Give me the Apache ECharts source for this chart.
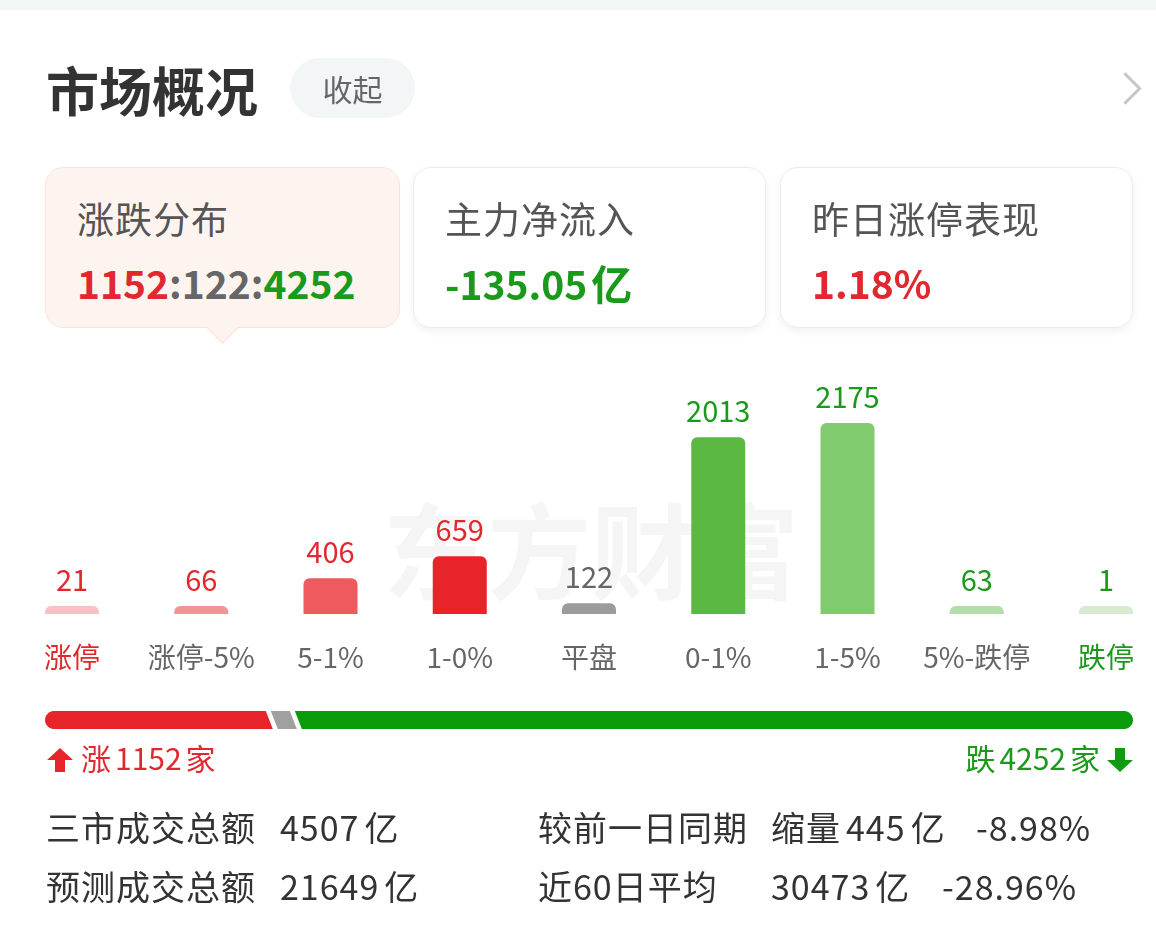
<!DOCTYPE html>
<html>
<head>
<meta charset="utf-8">
<script src="https://cdn.jsdelivr.net/npm/echarts@6/dist/echarts.min.js"></script>
<style>
    body { margin: 0; background: #fff; font-family: "Noto Sans CJK SC", "Noto Sans", sans-serif; }
    #page { position: relative; width: 1156px; height: 937px; overflow: hidden; }
    #chart { position: absolute; left: 0; top: 0; width: 1156px; height: 937px; }
    .abs { position: absolute; white-space: nowrap; }
    .topbar { left: 0; top: 0; width: 1156px; height: 10px; background: #f1f6f7; }
    .title { left: 46px; top: 57px; font-size: 53px; line-height: 64px; font-weight: bold; color: #333; }
    .pill { left: 290px; top: 58px; width: 125px; height: 60px; border-radius: 30px; background: #f2f6f7;
        color: #666; font-size: 30px; line-height: 60px; text-align: center; }
    .chev { left: 1114px; top: 77px; width: 20px; height: 20px; border-top: 3px solid #c6c6c6;
        border-right: 3px solid #c6c6c6; transform: rotate(45deg); }
    .card { top: 167px; height: 159px; border-radius: 18px; background: #fff; border: 1px solid #ececec;
        box-shadow: 0 3px 10px rgba(0, 0, 0, 0.06); }
    .card.on { background: #fdf4f0; border-color: #f8e4dc; box-shadow: none; }
    .card .t { position: absolute; left: 31px; top: 27px; font-size: 37px; line-height: 46px; color: #555; letter-spacing: 1px; }
    .card .v { position: absolute; left: 31px; top: 91px; font-size: 39px; line-height: 46px; font-weight: bold; }
    .card .v .u { margin-left: 4px; font-size: 41px; }
    .tip { left: 211px; top: 316px; width: 22px; height: 22px; background: #fdf4f0; border-right: 1px solid #f8e4dc;
        border-bottom: 1px solid #f8e4dc; transform: rotate(45deg); }
    .red { color: #e0282e; }
    .green { color: #1a9a1a; }
    .gray { color: #666; }
    .cnt { top: 738px; font-size: 30px; line-height: 38px; }
    .cnt .u { margin-left: 4px; }
    .row { font-size: 34px; line-height: 42px; color: #333; letter-spacing: 1px; }
    .u { margin-left: 5px; }
</style>
</head>
<body>
<div id="page">
    <div id="chart"></div>
    <div class="abs topbar"></div>
    <div class="abs title">市场概况</div>
    <div class="abs pill">收起</div>
    <div class="abs chev"></div>

    <div class="abs card on" style="left:45px;width:353px;">
        <div class="t">涨跌分布</div>
        <div class="v"><span class="red" id="vUp"></span><span class="gray">:</span><span class="gray" id="vFlat"></span><span class="gray">:</span><span class="green" id="vDown"></span></div>
    </div>
    <div class="abs tip"></div>
    <div class="abs card" style="left:413px;width:351px;">
        <div class="t">主力净流入</div>
        <div class="v green">-135.05<span class="u">亿</span></div>
    </div>
    <div class="abs card" style="left:780px;width:351px;">
        <div class="t">昨日涨停表现</div>
        <div class="v red">1.18%</div>
    </div>

    <div class="abs cnt red" style="left:46px;">
        <svg width="28" height="26" style="vertical-align:-3px;margin-right:7px"><polygon points="14,1 27,13 19,13 19,25 9,25 9,13 1,13" fill="#e8242b"/></svg>涨<span class="u" id="upTxt"></span><span class="u">家</span>
    </div>
    <div class="abs cnt green" style="right:22px;">
        跌<span class="u" id="downTxt"></span><span class="u">家</span><svg width="28" height="26" style="vertical-align:-3px;margin-left:6px"><polygon points="9,1 19,1 19,13 27,13 14,25 1,13 9,13" fill="#119a11"/></svg>
    </div>

    <div class="abs row" style="left:46px;top:806px;">三市成交总额</div>
    <div class="abs row" style="left:280px;top:806px;">4507<span class="u">亿</span></div>
    <div class="abs row" style="left:538px;top:806px;">较前一日同期</div>
    <div class="abs row green" style="left:771px;top:806px;">缩量<span class="u">445</span><span class="u">亿</span></div>
    <div class="abs row green" style="left:976px;top:806px;">-8.98%</div>
    <div class="abs row" style="left:46px;top:865px;">预测成交总额</div>
    <div class="abs row" style="left:280px;top:865px;">21649<span class="u">亿</span></div>
    <div class="abs row" style="left:538px;top:865px;">近60日平均</div>
    <div class="abs row" style="left:771px;top:865px;">30473<span class="u">亿</span></div>
    <div class="abs row green" style="left:942px;top:865px;">-28.96%</div>
</div>

<script>
    // 涨跌分布
    const categories = ['涨停', '涨停-5%', '5-1%', '1-0%', '平盘', '0-1%', '1-5%', '5%-跌停', '跌停']
    const counts = [21, 66, 406, 659, 122, 2013, 2175, 63, 1]
    // 涨 / 平 / 跌
    const upFlatDown = [1152, 122, 4252]

    const barColors = ['#f9c1c4', '#f29396', '#ee5a5d', '#e8232a', '#9c9c9c', '#5ab843', '#80cb6e', '#b3deaa', '#d5ecd0']
    const labelColors = ['#e0282e', '#e0282e', '#e0282e', '#e0282e', '#666', '#1a9a1a', '#1a9a1a', '#1a9a1a', '#1a9a1a']
    const axisColors = ['#e0282e', '#666', '#666', '#666', '#666', '#666', '#666', '#666', '#1a9a1a']
    const segColors = ['#e8242b', '#a0a0a0', '#0a9b0a']

    document.getElementById('vUp').textContent = upFlatDown[0]
    document.getElementById('vFlat').textContent = upFlatDown[1]
    document.getElementById('vDown').textContent = upFlatDown[2]
    document.getElementById('upTxt').textContent = upFlatDown[0]
    document.getElementById('downTxt').textContent = upFlatDown[2]

    const total = upFlatDown.reduce((a, b) => a + b, 0)
    let acc = 0
    const segData = upFlatDown.map(v => {
        const d = [acc, acc + v, 0]
        acc += v
        return d
    })

    function renderSeg(params, api) {
        const cs = params.coordSys
        const i = params.dataIndex
        const xa = api.coord([api.value(0), 0])[0]
        const xb = api.coord([api.value(1), 0])[0]
        const y0 = cs.y, y1 = cs.y + cs.height, yc = (y0 + y1) / 2, r = cs.height / 2
        const g = 2.5, s = 3.5
        const pts = []
        if (i === 0) {
            for (let k = 0; k <= 12; k++) {
                const a = Math.PI / 2 + Math.PI * k / 12
                pts.push([xa + r + r * Math.cos(a), yc + r * Math.sin(a)])
            }
        } else {
            pts.push([xa + g + s, y1], [xa + g - s, y0])
        }
        if (i === segData.length - 1) {
            for (let k = 0; k <= 12; k++) {
                const a = -Math.PI / 2 + Math.PI * k / 12
                pts.push([xb - r + r * Math.cos(a), yc + r * Math.sin(a)])
            }
        } else {
            pts.push([xb - g - s, y0], [xb - g + s, y1])
        }
        return { type: 'polygon', shape: { points: pts }, style: { fill: segColors[i] } }
    }

    const chartsOption = {
        animation: false,
        graphic: [{
            type: 'text',
            left: 383,
            top: 500,
            z: 0,
            style: {
                text: '东方财富',
                font: 'bold 104px "Noto Sans CJK SC"',
                fill: 'rgba(0,0,0,0.04)'
            }
        }],
        grid: [
            { left: 72, top: 377, width: 1034, height: 237 },
            { left: 45, top: 711, width: 1088, height: 18 }
        ],
        xAxis: [
            {
                type: 'category',
                gridIndex: 0,
                data: categories,
                boundaryGap: false,
                axisLine: { show: false },
                axisTick: { show: false },
                axisLabel: {
                    interval: 0,
                    margin: 29,
                    fontSize: 28,
                    fontFamily: 'Noto Sans CJK SC',
                    color: (v, idx) => axisColors[idx]
                }
            },
            { type: 'value', gridIndex: 1, min: 0, max: total, show: false }
        ],
        yAxis: [
            { type: 'value', gridIndex: 0, min: 0, max: 2700, show: false },
            { type: 'category', gridIndex: 1, data: [''], show: false }
        ],
        series: [
            {
                type: 'bar',
                xAxisIndex: 0,
                yAxisIndex: 0,
                barWidth: 54,
                barMinHeight: 8,
                data: counts.map((v, i) => ({
                    value: v,
                    itemStyle: { color: barColors[i], borderRadius: [6, 6, 0, 0] },
                    label: { color: labelColors[i] }
                })),
                label: {
                    show: true,
                    position: 'top',
                    distance: 12,
                    fontSize: 29,
                    fontFamily: 'Noto Sans CJK SC'
                }
            },
            {
                type: 'custom',
                xAxisIndex: 1,
                yAxisIndex: 1,
                renderItem: renderSeg,
                encode: { x: [0, 1] },
                data: segData
            }
        ]
    }

    const chart = echarts.init(document.getElementById('chart'))
    chart.setOption(chartsOption)
    window.addEventListener('resize', () => chart.resize())
</script>
</body>
</html>
